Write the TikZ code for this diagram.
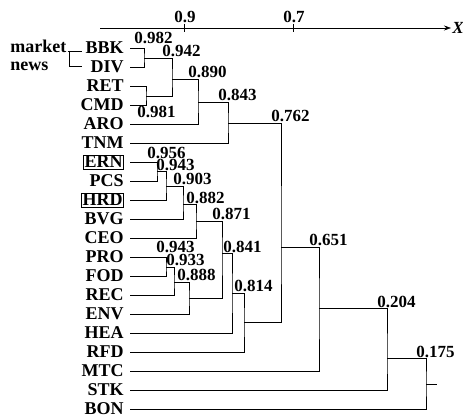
\documentclass[tikz,border=0pt]{standalone}
\usepackage{fontspec}
\setmainfont{Liberation Serif}
\usetikzlibrary{arrows.meta}
\begin{document}
\begin{tikzpicture}[x=1pt,y=-1pt,line width=0.6pt,>={Stealth[length=7pt,width=5pt]},
    leaf/.style={anchor=east,inner sep=0pt,font=\fontsize{18}{18}\selectfont\bfseries},
    boxleaf/.style={leaf,draw,inner sep=1pt},
    num/.style={anchor=base west,inner sep=0pt,font=\fontsize{17}{17}\selectfont\bfseries}]
    \useasboundingbox (0,0) rectangle (463,417);
    % axis
    \draw[->](100,28)--(451,28)node(xlab)[right,inner sep=1pt,font=\fontsize{17}{17}\selectfont\bfseries\itshape]{X};
    \foreach \x/\v [count=\i] in {184/0.9, 293/0.7}
    {
        \draw(\x,24)--(\x,32);
        \node[num](tick\i) at (\x-10,23){\v};
    }
    % leaves
    \foreach \name/\sty [count=\i from 0] in {BBK/leaf, DIV/leaf, RET/leaf, CMD/leaf,
        ARO/leaf, TNM/leaf, ERN/boxleaf, PCS/leaf, HRD/boxleaf, BVG/leaf, CEO/leaf,
        PRO/leaf, FOD/leaf, REC/leaf, ENV/leaf, HEA/leaf, RFD/leaf, MTC/leaf,
        STK/leaf, BON/leaf}
    {
        \node[\sty](\name) at (124,48+19.0*\i){\name};
        \coordinate(\name-s) at (130,48+19.0*\i);
    }
    \node[leaf,anchor=base west](mkt) at (10,53){market};
    \node[leaf,anchor=base west](nws) at (10,71){news};
    \draw(mkt.base east)++(1,-2)coordinate(br1)--(82,51);
    \draw(69,51)|-(82,66);
    % merges
    \coordinate(m982) at (144,58);
    \coordinate(m981) at (146,96);
    \coordinate(m942) at (172,79);
    \coordinate(m890) at (198,102);
    \coordinate(m843) at (228,123);
    \coordinate(m956) at (157,171);
    \coordinate(m943a) at (166,186);
    \coordinate(m903) at (183,204);
    \coordinate(m882) at (196,221);
    \coordinate(m943b) at (166,267);
    \coordinate(m933) at (174,282);
    \coordinate(m888) at (189,298);
    \coordinate(m871) at (222,253);
    \coordinate(m841) at (232,293);
    \coordinate(m814) at (244,322);
    \coordinate(m762) at (281,247);
    \coordinate(m651) at (319,308);
    \coordinate(m204) at (387,358);
    \coordinate(m175) at (426,384);
    \coordinate(root) at (437,384);
    \draw(BBK-s)-|(m982)|-(DIV-s);
    \draw(RET-s)-|(m981)|-(CMD-s);
    \draw(m982)-|(m942)|-(m981);
    \draw(m942)-|(m890)|-(ARO-s);
    \draw(m890)-|(m843)|-(TNM-s);
    \draw(ERN-s)-|(m956)|-(PCS-s);
    \draw(m956)-|(m943a)|-(HRD-s);
    \draw(m943a)-|(m903)|-(BVG-s);
    \draw(m903)-|(m882)|-(CEO-s);
    \draw(PRO-s)-|(m943b)|-(FOD-s);
    \draw(m943b)-|(m933)|-(REC-s);
    \draw(m933)-|(m888)|-(ENV-s);
    \draw(m882)-|(m871)|-(m888);
    \draw(m871)-|(m841)|-(HEA-s);
    \draw(m841)-|(m814)|-(RFD-s);
    \draw(m843)-|(m762)|-(m814);
    \draw(m762)-|(m651)|-(MTC-s);
    \draw(m651)-|(m204)|-(STK-s);
    \draw(m204)-|(m175)|-(BON-s);
    \draw(m175)--(root);
    % values
    \foreach \x/\y/\v in {134/44/982, 162/57/942, 188/78/890, 218/101/843,
        271/122/762, 147/158/956, 156/170/943, 173/184/903, 186/203/882,
        212/219/871, 223/252/841, 234/291/814, 309/245/651, 377/307/204,
        416/357/175, 156/252/943, 166/265/933, 177/280/888, 137/118/981}
    {
        \node[num](v\x-\y) at (\x,\y){0.\v};
    }
\end{tikzpicture}
\end{document}
